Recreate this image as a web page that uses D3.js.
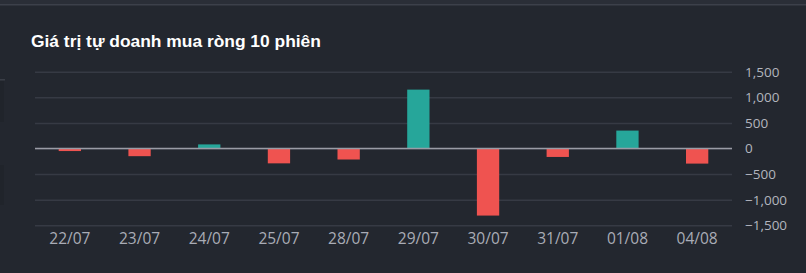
<!DOCTYPE html>
<html>
<head>
    <meta charset="utf-8">
    <title>Giá trị tự doanh mua ròng 10 phiên</title>
    <script src="https://d3js.org/d3.v7.min.js"></script>
    <style>
        html, body { margin: 0; padding: 0; background: #23272f; }
        svg { display: block; }
    </style>
</head>
<body>
    <svg width="806" height="273"></svg>
    <script>
        // Data (tỷ đồng)
        const sessions = ["22/07", "23/07", "24/07", "25/07", "28/07", "29/07", "30/07", "31/07", "01/08", "04/08"];
        const netValues = [-50, -150, 80, -290, -215, 1150, -1310, -165, 350, -295];
        const yTicks = [-1500, -1000, -500, 0, 500, 1000, 1500];

        const W = 806, H = 273;
        const plot = {left: 35, right: 732, top: 71.7, bottom: 225.3};

        const svg = d3.select("svg");

        // Background + top strip
        svg.append("rect").attr("width", W).attr("height", H).attr("fill", "#23272f");
        svg.append("rect").attr("width", W).attr("height", 4).attr("fill", "#2a2e37");
        svg.append("rect").attr("y", 4).attr("width", W).attr("height", 1.5).attr("fill", "#3c404a");

        // faint remnants of a neighbouring panel on the left edge
        svg.append("rect").attr("x", 0).attr("y", 79).attr("width", 5).attr("height", 1.5).attr("fill", "#3a3e47");
        svg.append("rect").attr("x", 0).attr("y", 81).attr("width", 4).attr("height", 41).attr("fill", "#20242b");
        svg.append("rect").attr("x", 0).attr("y", 165).attr("width", 4).attr("height", 40).attr("fill", "#20242b");

        // Title
        svg.append("text")
            .attr("x", 31)
            .attr("y", 47)
            .attr("fill", "#ffffff")
            .attr("font-family", "Arial, 'Liberation Sans', sans-serif")
            .attr("font-weight", "bold")
            .attr("font-size", "17.4px")
            .text("Giá trị tự doanh mua ròng 10 phiên");

        // Scales
        const x = d3.scaleBand()
            .domain(sessions)
            .range([plot.left, plot.right])
            .paddingInner(0.68)
            .paddingOuter(0.34);

        const y = d3.scaleLinear()
            .domain([-1500, 1500])
            .range([plot.bottom, plot.top]);

        // Y axis on the right with gridlines
        const yAxis = svg.append("g")
            .attr("transform", `translate(${plot.right},0)`)
            .call(d3.axisRight(y)
                .tickValues(yTicks)
                .tickSize(-(plot.right - plot.left))
                .tickPadding(13)
                .tickFormat(d3.format(",")));
        yAxis.select(".domain").remove();
        yAxis.selectAll(".tick line")
            .attr("stroke", "#363a44")
            .attr("stroke-width", 1.5);
        yAxis.selectAll(".tick text")
            .attr("fill", "#b2b5be")
            .attr("font-family", "'Open Sans', sans-serif")
            .attr("font-size", "13.5px");

        // Bars
        svg.append("g")
            .selectAll("rect")
            .data(netValues)
            .join("rect")
            .attr("x", (d, i) => x(sessions[i]))
            .attr("y", d => y(Math.max(0, d)))
            .attr("width", x.bandwidth())
            .attr("height", d => Math.abs(y(d) - y(0)))
            .attr("fill", d => d >= 0 ? "#26a69a" : "#ef5350");

        // Zero line
        svg.append("line")
            .attr("x1", plot.left)
            .attr("x2", plot.right)
            .attr("y1", y(0))
            .attr("y2", y(0))
            .attr("stroke", "#9a9ca6")
            .attr("stroke-width", 1.5);

        // X axis labels
        const xAxis = svg.append("g")
            .attr("transform", `translate(0,${plot.bottom})`)
            .call(d3.axisBottom(x).tickSize(0).tickPadding(8));
        xAxis.select(".domain").remove();
        xAxis.selectAll(".tick text")
            .attr("fill", "#a9acb6")
            .attr("font-family", "'Open Sans', sans-serif")
            .attr("font-size", "15.5px");
    </script>
</body>
</html>
